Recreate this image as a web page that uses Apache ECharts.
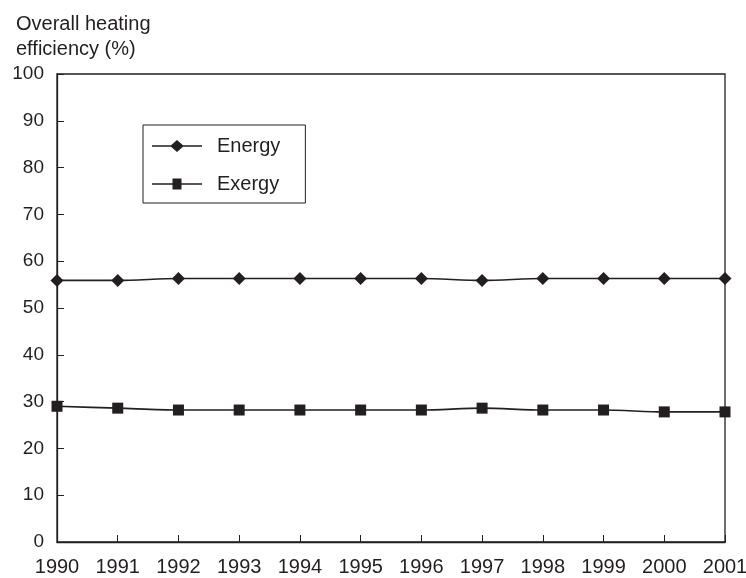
<!DOCTYPE html>
<html><head><meta charset="utf-8">
<script src="https://cdn.jsdelivr.net/npm/echarts@6/dist/echarts.min.js"></script>
<style>html,body{margin:0;padding:0;background:#fff}#c{width:746px;height:578px}</style>
</head><body><div id="c"></div>
<script>
const years = ['1990','1991','1992','1993','1994','1995','1996','1997','1998','1999','2000','2001'];
const energy = [55.9, 55.9, 56.3, 56.3, 56.3, 56.3, 56.3, 55.9, 56.3, 56.3, 56.3, 56.3];
const exergy = [29.0, 28.6, 28.2, 28.2, 28.2, 28.2, 28.2, 28.6, 28.2, 28.2, 27.8, 27.8];
const yTitle = 'Overall heating\nefficiency (%)';
const C = '#231f20';
const font = 'Liberation Sans, Arial, sans-serif';
const diamondIcon = 'path://M0 5.3L19 5.3L25 0L31 5.3L50 5.3L50 6.7L31 6.7L25 12L19 6.7L0 6.7Z';
const squareIcon = 'path://M0 5.3L20.5 5.3L20.5 0.5L29.5 0.5L29.5 5.3L50 5.3L50 6.7L29.5 6.7L29.5 11.5L20.5 11.5L20.5 6.7L0 6.7Z';
const chart = echarts.init(document.getElementById('c'));
chart.setOption({
  animation: false,
  backgroundColor: '#fff',
  textStyle: {fontFamily: font},
  title: {text: yTitle, left: 11, top: 7, textStyle: {fontSize: 20, fontWeight: 'normal', color: C, lineHeight: 25, fontFamily: font}},
  grid: {left: 57, right: 21, top: 74, bottom: 36, show: true, borderColor: C, borderWidth: 1.3, outerBoundsMode: 'none', containLabel: false},
  legend: {
    left: 143, top: 125, orient: 'vertical', itemGap: 18,
    padding: [11, 25, 9, 9],
    borderColor: C, borderWidth: 1, itemWidth: 50, itemHeight: 12,
    itemStyle: {borderWidth: 0},
    textStyle: {fontSize: 20, color: C, fontFamily: font, padding: [0,0,0,10]},
    data: [{name: 'Energy', icon: diamondIcon}, {name: 'Exergy', icon: squareIcon}]
  },
  xAxis: {
    type: 'category', data: years, boundaryGap: false,
    axisLine: {lineStyle: {color: C, width: 1.3}},
    axisTick: {inside: true, length: 7, lineStyle: {color: C}},
    axisLabel: {fontSize: 20, color: C, margin: 15, fontFamily: font, showMaxLabel: true, showMinLabel: true}
  },
  yAxis: {
    type: 'value', min: 0, max: 100, interval: 10,
    axisLine: {show: true, lineStyle: {color: C, width: 1.3}},
    axisTick: {show: true, inside: true, length: 7, lineStyle: {color: C}},
    splitLine: {show: false},
    axisLabel: {fontSize: 19, color: C, margin: 13, fontFamily: font}
  },
  series: [
    {name: 'Energy', type: 'line', data: energy, smooth: 0.3, symbol: 'diamond', symbolSize: 13,
     lineStyle: {color: C, width: 1.6}, itemStyle: {color: C}},
    {name: 'Exergy', type: 'line', data: exergy, smooth: 0.3, symbol: 'rect', symbolSize: 11,
     lineStyle: {color: C, width: 1.6}, itemStyle: {color: C}}
  ]
});
</script></body></html>
